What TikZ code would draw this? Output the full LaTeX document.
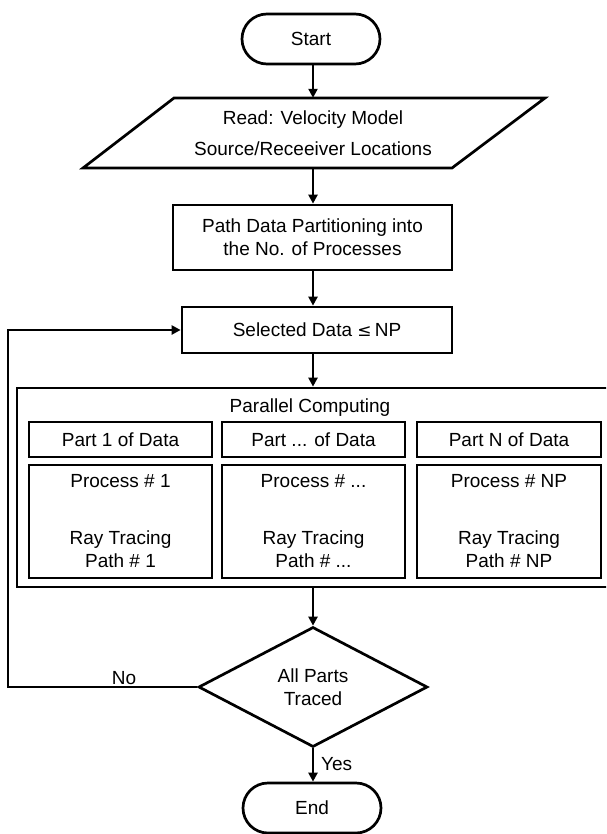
\documentclass[tikz,border=0pt]{standalone}
\usepackage{fontspec}
\setmainfont{Liberation Sans}
\usetikzlibrary{shapes.misc,shapes.geometric,arrows.meta}
\begin{document}
\begin{tikzpicture}[x=1pt,y=-1pt,
  font=\fontsize{19}{23}\selectfont,
  base/.style={draw=black,line width=2.7pt,inner sep=0pt,align=center},
  term/.style={base,rounded rectangle,minimum width=138pt,minimum height=50pt},
  box/.style={base,rectangle},
  arr/.style={line width=2.7pt,-{Triangle[length=9pt,width=9pt]}},
  lbl/.style={inner sep=0pt}]
\useasboundingbox (0,0) rectangle (606,834);
\clip (0,0) rectangle (606,834);
% start
\node[term] (start) at (311,39) {Start};
% read (parallelogram)
\draw[line width=2.7pt,line join=miter] (174,98) -- (545,98) -- (452,168) -- (83,168) -- cycle;
\node[lbl,minimum width=280pt,minimum height=70pt,align=center] (read) at (313,133)
  {Read: Velocity Model\\[8pt]Source/Receeiver Locations};
% partition
\node[box,minimum width=279pt,minimum height=65pt] (part) at (312.5,237.5)
  {Path Data Partitioning into\\the No. of Processes};
% selected
\node[box,minimum width=270pt,minimum height=46pt] (sel) at (317,330)
  {Selected Data {\fontspec{DejaVu Sans}\fontsize{17}{23}\selectfont ≤}\,NP};
% parallel computing outer box
\node[box,minimum width=600pt,minimum height=199pt] (outer) at (317,487.5) {};
\node[lbl] (pc) at (310,408) {Parallel Computing};
% parts
\node[box,minimum width=183pt,minimum height=35pt] (d1) at (120.5,439.5) {Part 1 of Data};
\node[box,minimum width=183pt,minimum height=35pt] (d2) at (313.5,439.5) {Part ... of Data};
\node[box,minimum width=184pt,minimum height=35pt] (d3) at (509,439.5) {Part N of Data};
% processes
\node[box,minimum width=183pt,minimum height=113pt] (q1) at (120.5,521.5)
  {Process \# 1\\[34pt]Ray Tracing\\Path \# 1};
\node[box,minimum width=183pt,minimum height=113pt] (q2) at (313.5,521.5)
  {Process \# ...\\[34pt]Ray Tracing\\Path \# ...};
\node[box,minimum width=184pt,minimum height=113pt] (q3) at (509,521.5)
  {Process \# NP\\[34pt]Ray Tracing\\Path \# NP};
% decision
\node[base,diamond,minimum width=229pt,minimum height=120pt] (dia) at (313,687)
  {All Parts\\Traced};
% end
\node[term] (end) at (312,808) {End};
% connectors
\draw[arr] (start.south -| read.north) -- (read.north);
\draw[arr] (read.south) -- (part.north -| read.south);
\draw[arr] (part.south -| dia.north) -- (sel.north -| dia.north);
\draw[arr] (sel.south -| dia.north) -- (outer.north -| dia.north);
\draw[arr] (outer.south -| dia.north) -- (dia.north);
\draw[arr] (dia.south) -- (end.north -| dia.south);
\coordinate (lp) at (8,687);
\draw[arr] (dia.west) -- (lp) |- (sel.west);
\node[lbl,anchor=base] (no) at (124,684) {No};
\node[lbl,anchor=base west] (yes) at (321,770) {Yes};
\end{tikzpicture}
\end{document}
